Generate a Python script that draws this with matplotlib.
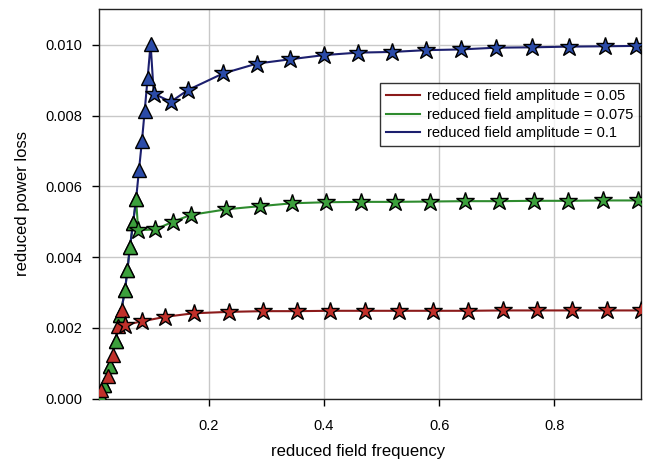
import numpy as np
import matplotlib
matplotlib.use("Agg")
import matplotlib.pyplot as plt
from matplotlib.ticker import FormatStrFormatter, MultipleLocator

plt.rcParams['font.family'] = ['Liberation Sans', 'DejaVu Sans']

# amplitude 0.05 (red)
red_tri_x = [0.013, 0.025, 0.034, 0.043, 0.050]
red_tri_y = [0.24, 0.64, 1.22, 2.04, 2.50]
red_star_x = [0.055, 0.084, 0.125, 0.174, 0.236, 0.295, 0.353, 0.411, 0.472,
              0.531, 0.590, 0.650, 0.711, 0.770, 0.831, 0.891, 0.950]
red_star_y = [2.08, 2.18, 2.31, 2.41, 2.45, 2.47, 2.47, 2.48, 2.48,
              2.48, 2.48, 2.48, 2.49, 2.49, 2.49, 2.49, 2.49]

# amplitude 0.075 (green)
green_tri_x = [0.011, 0.019, 0.029, 0.0396, 0.047, 0.0553, 0.0593, 0.0636, 0.069, 0.0743]
green_tri_y = [0.10, 0.38, 0.92, 1.64, 2.35, 3.08, 3.64, 4.27, 4.95, 5.63]
green_star_x = [0.078, 0.107, 0.139, 0.169, 0.231, 0.290, 0.345, 0.404, 0.465,
                0.524, 0.584, 0.644, 0.704, 0.764, 0.824, 0.884, 0.944]
green_star_y = [4.76, 4.78, 5.00, 5.19, 5.35, 5.44, 5.52, 5.55, 5.56,
                5.56, 5.57, 5.58, 5.58, 5.59, 5.59, 5.60, 5.60]

# amplitude 0.1 (blue)
blue_tri_x = [0.011, 0.019, 0.029, 0.0396, 0.047, 0.0553, 0.0593, 0.0636, 0.069, 0.0743,
              0.0793, 0.0845, 0.0893, 0.0943, 0.0995]
blue_tri_y = [0.10, 0.38, 0.92, 1.64, 2.35, 3.08, 3.64, 4.27, 4.95, 5.63,
              6.45, 7.28, 8.14, 9.05, 10.03]
blue_star_x = [0.105, 0.1345, 0.164, 0.225, 0.284, 0.341, 0.400, 0.459, 0.519,
               0.577, 0.637, 0.699, 0.761, 0.825, 0.888, 0.942]
blue_star_y = [8.62, 8.39, 8.72, 9.19, 9.47, 9.59, 9.71, 9.78, 9.80,
               9.85, 9.87, 9.92, 9.93, 9.95, 9.96, 9.97]

labels = ['reduced field amplitude = 0.05',
          'reduced field amplitude = 0.075',
          'reduced field amplitude = 0.1']

series = [
    (red_tri_x, red_tri_y, red_star_x, red_star_y, '#8b1a1a', '#c0302a'),
    (green_tri_x, green_tri_y, green_star_x, green_star_y, '#2e8b2e', '#3ca03c'),
    (blue_tri_x, blue_tri_y, blue_star_x, blue_star_y, '#1c1f6e', '#2b4ba8'),
]

fig = plt.figure(figsize=(6.67, 4.65), dpi=100)
ax = fig.add_axes([0.1484, 0.143, 0.8126, 0.8366])

handles = []
for i, (tx, ty, sx, sy, lc, mc) in enumerate(series):
    x = np.array(tx + sx)
    y = np.array(ty + sy) * 1e-3
    h, = ax.plot(x, y, '-', color=lc, lw=1.5, zorder=2 + 0.1 * i)
    handles.append(h)

for i, (tx, ty, sx, sy, lc, mc) in reversed(list(enumerate(series))):
    z = 3 + 0.1 * (2 - i)
    ax.plot(tx, np.array(ty) * 1e-3, '^', ms=9.5, mfc=mc, mec='black', mew=1.0,
            ls='none', zorder=z)
    ax.plot(sx, np.array(sy) * 1e-3, '*', ms=13.5, mfc=mc, mec='black', mew=1.0,
            ls='none', zorder=z)

ax.set_xlim(0.01, 0.95)
ax.set_ylim(0, 0.011)
ax.xaxis.set_major_locator(MultipleLocator(0.2))
ax.yaxis.set_major_locator(MultipleLocator(0.002))
ax.yaxis.set_major_formatter(FormatStrFormatter('%.3f'))
ax.tick_params(direction='out', length=5, width=1, pad=7, labelsize=10.5)
ax.tick_params(axis='x', pad=10)
ax.grid(True, color='#c8c8c8', lw=1)
ax.set_axisbelow(True)
for s in ax.spines.values():
    s.set_color('#222222')
    s.set_linewidth(1)

ax.set_xlabel('reduced field frequency', fontsize=12)
ax.xaxis.set_label_coords(0.478, -0.118)
ax.set_ylabel('reduced power loss', fontsize=12, labelpad=11)

leg = ax.legend(handles, labels, loc='upper right', bbox_to_anchor=(0.997, 0.81),
                fontsize=10.5, frameon=True, fancybox=False, handlelength=2.3,
                labelspacing=0.3, borderpad=0.4, handletextpad=0.5,
                borderaxespad=0)
leg.get_frame().set_edgecolor('black')
leg.get_frame().set_linewidth(1)

fig.savefig('out.png', dpi=100)
